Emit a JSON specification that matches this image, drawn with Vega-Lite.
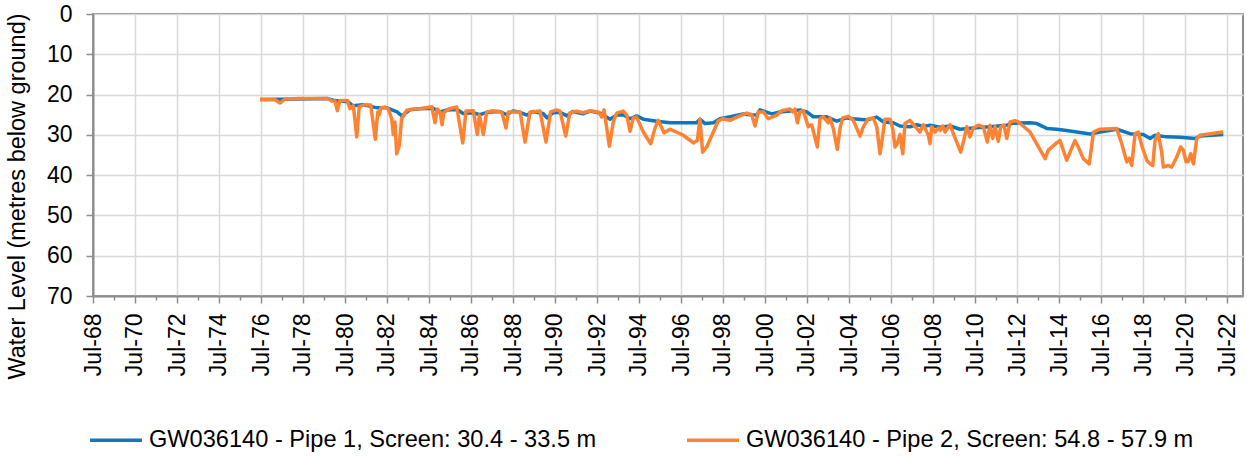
{
  "$schema": "https://vega.github.io/schema/vega-lite/v6.json",
  "autosize": "none",
  "width": 1150,
  "height": 282,
  "padding": {"left": 93, "top": 14, "right": 4, "bottom": 161},
  "background": "white",
  "config": {
    "font": "Liberation Sans",
    "view": {"stroke": "#8c8c8c", "strokeWidth": 2}
  },
  "datasets": {
    "p1": [
      {"d":"1976-06-14","v":21.2},{"d":"1978-05-09","v":21.1},{"d":"1979-09-09","v":21.0},{"d":"1980-01-09","v":21.5},
      {"d":"1980-08-22","v":21.8},{"d":"1980-11-17","v":22.8},{"d":"1981-05-09","v":22.5},{"d":"1982-01-09","v":23.3},
      {"d":"1982-07-01","v":23.3},{"d":"1982-12-22","v":24.3},{"d":"1983-03-17","v":25.3},{"d":"1983-08-04","v":23.8},
      {"d":"1984-01-26","v":23.5},{"d":"1984-09-09","v":23.4},{"d":"1985-01-09","v":24.3},{"d":"1985-05-09","v":23.8},
      {"d":"1985-11-01","v":23.7},{"d":"1986-02-13","v":24.7},{"d":"1986-08-04","v":24.5},{"d":"1986-12-04","v":25.0},
      {"d":"1987-04-04","v":24.4},{"d":"1987-11-17","v":24.2},{"d":"1988-03-17","v":25.0},{"d":"1988-07-01","v":24.1},
      {"d":"1988-11-01","v":24.4},{"d":"1989-03-01","v":25.1},{"d":"1989-06-14","v":24.2},{"d":"1989-12-04","v":24.7},
      {"d":"1990-02-13","v":25.8},{"d":"1990-05-26","v":24.5},{"d":"1990-09-26","v":24.4},{"d":"1991-01-26","v":25.3},
      {"d":"1991-05-09","v":24.2},{"d":"1991-11-01","v":24.8},{"d":"1992-03-01","v":24.1},{"d":"1992-08-22","v":24.6},
      {"d":"1993-02-13","v":26.1},{"d":"1993-06-08","v":25.1},{"d":"1993-10-01","v":25.0},{"d":"1994-01-26","v":26.0},
      {"d":"1994-05-21","v":25.3},{"d":"1994-09-14","v":26.1},{"d":"1995-05-04","v":26.6},{"d":"1995-12-22","v":27.0},
      {"d":"1997-03-30","v":27.0},{"d":"1997-05-26","v":26.1},{"d":"1997-08-22","v":27.2},{"d":"1998-01-14","v":27.0},
      {"d":"1998-05-09","v":26.0},{"d":"1998-11-01","v":25.5},{"d":"1999-06-19","v":24.8},{"d":"1999-10-13","v":25.0},
      {"d":"2000-02-08","v":25.1},{"d":"2000-04-04","v":23.8},{"d":"2000-10-26","v":24.8},{"d":"2001-03-17","v":24.3},
      {"d":"2001-11-06","v":24.0},{"d":"2002-03-01","v":23.8},{"d":"2002-06-26","v":24.3},{"d":"2002-10-19","v":25.5},
      {"d":"2003-06-08","v":25.5},{"d":"2003-11-30","v":26.6},{"d":"2004-05-21","v":25.8},{"d":"2004-09-14","v":26.0},
      {"d":"2005-05-04","v":26.3},{"d":"2005-10-26","v":25.6},{"d":"2006-02-19","v":26.8},{"d":"2006-08-10","v":27.0},
      {"d":"2006-12-04","v":27.8},{"d":"2007-05-26","v":28.0},{"d":"2007-09-21","v":27.5},{"d":"2008-01-14","v":27.9},
      {"d":"2008-05-09","v":27.6},{"d":"2008-11-01","v":28.1},{"d":"2009-04-22","v":27.8},{"d":"2009-10-13","v":28.6},
      {"d":"2010-06-01","v":28.3},{"d":"2011-03-17","v":28.0},{"d":"2012-01-04","v":27.6},{"d":"2012-04-27","v":27.1},
      {"d":"2013-02-13","v":27.0},{"d":"2013-06-08","v":27.2},{"d":"2013-11-30","v":28.4},{"d":"2014-05-21","v":28.6},
      {"d":"2014-11-12","v":28.9},{"d":"2015-05-04","v":29.3},{"d":"2015-12-22","v":29.8},{"d":"2016-06-14","v":29.3},
      {"d":"2017-03-30","v":28.6},{"d":"2017-11-17","v":29.7},{"d":"2018-07-06","v":29.9},{"d":"2018-11-01","v":30.9},
      {"d":"2019-01-26","v":30.1},{"d":"2019-08-17","v":30.5},{"d":"2020-04-04","v":30.6},{"d":"2020-12-22","v":30.9},
      {"d":"2021-03-17","v":30.3},{"d":"2022-04-27","v":29.9}
    ],
    "p2": [
      {"d":"1976-06-14","v":21.2},{"d":"1977-03-01","v":21.3},{"d":"1977-05-26","v":22.1},{"d":"1977-08-22","v":21.1},
      {"d":"1978-05-09","v":21.0},{"d":"1979-09-14","v":21.0},{"d":"1979-11-12","v":21.6},{"d":"1980-01-09","v":21.6},
      {"d":"1980-02-19","v":24.0},{"d":"1980-04-04","v":21.5},{"d":"1980-08-10","v":21.5},{"d":"1980-09-26","v":23.5},
      {"d":"1980-11-23","v":22.8},{"d":"1981-01-21","v":30.5},{"d":"1981-03-06","v":23.0},{"d":"1981-06-14","v":22.5},
      {"d":"1981-09-21","v":22.6},{"d":"1981-12-10","v":31.1},{"d":"1982-01-21","v":24.3},{"d":"1982-02-19","v":25.0},
      {"d":"1982-03-17","v":23.3},{"d":"1982-05-26","v":23.1},{"d":"1982-07-23","v":23.6},{"d":"1982-09-21","v":26.0},
      {"d":"1982-10-19","v":29.9},{"d":"1982-11-17","v":26.8},{"d":"1982-12-17","v":34.7},{"d":"1983-02-01","v":32.6},
      {"d":"1983-03-12","v":26.0},{"d":"1983-06-08","v":23.9},{"d":"1983-10-01","v":23.6},{"d":"1984-01-26","v":23.5},
      {"d":"1984-08-17","v":23.0},{"d":"1984-10-13","v":27.0},{"d":"1984-11-23","v":23.6},{"d":"1985-01-09","v":24.3},
      {"d":"1985-02-13","v":27.5},{"d":"1985-03-17","v":24.5},{"d":"1985-06-01","v":23.6},{"d":"1985-10-26","v":23.1},
      {"d":"1986-02-08","v":32.0},{"d":"1986-04-04","v":24.1},{"d":"1986-08-10","v":24.0},{"d":"1986-10-19","v":29.9},
      {"d":"1986-11-23","v":25.1},{"d":"1987-02-01","v":29.9},{"d":"1987-03-30","v":24.3},{"d":"1987-07-23","v":24.0},
      {"d":"1987-12-17","v":24.3},{"d":"1988-03-01","v":28.3},{"d":"1988-04-10","v":24.3},{"d":"1988-11-01","v":24.3},
      {"d":"1989-01-26","v":31.8},{"d":"1989-04-22","v":24.3},{"d":"1989-10-13","v":24.1},{"d":"1990-01-26","v":31.8},
      {"d":"1990-04-16","v":24.3},{"d":"1990-07-30","v":23.8},{"d":"1990-09-26","v":24.1},{"d":"1991-01-04","v":30.3},
      {"d":"1991-03-17","v":24.5},{"d":"1991-07-12","v":24.1},{"d":"1991-11-06","v":24.5},{"d":"1992-03-01","v":24.0},
      {"d":"1992-07-23","v":24.3},{"d":"1992-09-21","v":25.6},{"d":"1992-11-01","v":23.8},{"d":"1993-02-01","v":32.8},
      {"d":"1993-04-10","v":26.8},{"d":"1993-06-08","v":24.6},{"d":"1993-10-01","v":24.1},{"d":"1993-11-30","v":25.1},
      {"d":"1994-01-26","v":29.1},{"d":"1994-03-23","v":25.8},{"d":"1994-05-21","v":25.6},{"d":"1994-09-14","v":29.3},
      {"d":"1995-01-21","v":32.2},{"d":"1995-04-04","v":28.4},{"d":"1995-06-01","v":26.4},{"d":"1995-09-09","v":29.5},
      {"d":"1995-12-22","v":28.6},{"d":"1996-08-10","v":30.1},{"d":"1997-02-01","v":32.0},{"d":"1997-04-10","v":31.4},
      {"d":"1997-05-26","v":26.1},{"d":"1997-07-12","v":34.3},{"d":"1997-09-21","v":33.0},{"d":"1998-01-14","v":29.3},
      {"d":"1998-04-10","v":26.5},{"d":"1998-07-06","v":26.0},{"d":"1998-11-01","v":26.4},{"d":"1999-02-26","v":25.6},
      {"d":"1999-08-17","v":24.6},{"d":"1999-11-12","v":25.0},{"d":"2000-01-09","v":27.8},{"d":"2000-03-06","v":24.3},
      {"d":"2000-06-01","v":24.3},{"d":"2000-08-27","v":26.0},{"d":"2001-01-21","v":25.1},{"d":"2001-04-16","v":24.0},
      {"d":"2001-09-09","v":23.6},{"d":"2001-10-26","v":24.3},{"d":"2001-12-04","v":23.6},{"d":"2002-01-14","v":27.0},
      {"d":"2002-03-01","v":24.3},{"d":"2002-04-27","v":24.0},{"d":"2002-07-23","v":28.0},{"d":"2002-09-21","v":27.5},
      {"d":"2002-12-27","v":33.0},{"d":"2003-02-13","v":26.0},{"d":"2003-04-10","v":25.5},{"d":"2003-07-06","v":27.0},
      {"d":"2003-08-04","v":25.8},{"d":"2003-10-01","v":28.4},{"d":"2003-12-10","v":33.6},{"d":"2004-01-26","v":28.4},
      {"d":"2004-03-12","v":25.8},{"d":"2004-06-19","v":25.4},{"d":"2004-09-14","v":26.4},{"d":"2005-01-09","v":30.3},
      {"d":"2005-03-06","v":28.0},{"d":"2005-06-01","v":26.0},{"d":"2005-08-27","v":25.8},{"d":"2005-10-26","v":28.0},
      {"d":"2005-12-22","v":34.7},{"d":"2006-02-08","v":30.1},{"d":"2006-03-17","v":26.1},{"d":"2006-06-14","v":26.1},
      {"d":"2006-07-30","v":28.4},{"d":"2006-09-09","v":33.0},{"d":"2006-10-19","v":32.2},{"d":"2006-12-04","v":29.9},
      {"d":"2007-01-21","v":34.7},{"d":"2007-03-01","v":27.2},{"d":"2007-05-26","v":26.4},{"d":"2007-09-21","v":28.4},
      {"d":"2007-11-17","v":29.3},{"d":"2008-01-14","v":27.5},{"d":"2008-04-10","v":30.1},{"d":"2008-05-09","v":32.2},
      {"d":"2008-06-08","v":28.0},{"d":"2008-08-04","v":29.3},{"d":"2008-10-01","v":28.3},{"d":"2008-11-01","v":28.9},
      {"d":"2008-12-17","v":27.8},{"d":"2009-01-26","v":29.3},{"d":"2009-04-22","v":27.5},{"d":"2009-06-19","v":29.7},
      {"d":"2009-10-26","v":34.3},{"d":"2009-12-10","v":31.8},{"d":"2010-02-08","v":28.0},{"d":"2010-04-04","v":30.5},
      {"d":"2010-06-01","v":28.3},{"d":"2010-08-27","v":27.6},{"d":"2010-11-23","v":28.0},{"d":"2011-02-01","v":31.8},
      {"d":"2011-03-17","v":27.6},{"d":"2011-05-04","v":30.9},{"d":"2011-06-14","v":28.0},{"d":"2011-08-10","v":31.6},
      {"d":"2011-09-21","v":28.0},{"d":"2011-11-17","v":27.6},{"d":"2012-01-04","v":30.9},{"d":"2012-03-01","v":26.8},
      {"d":"2012-05-26","v":26.5},{"d":"2012-07-23","v":26.8},{"d":"2013-02-13","v":29.3},{"d":"2013-11-01","v":35.9},
      {"d":"2013-12-27","v":33.8},{"d":"2014-05-21","v":32.0},{"d":"2014-07-18","v":31.4},{"d":"2014-11-12","v":36.3},
      {"d":"2015-01-09","v":34.3},{"d":"2015-04-04","v":31.4},{"d":"2015-06-01","v":33.0},{"d":"2015-08-27","v":35.9},
      {"d":"2015-12-10","v":37.2},{"d":"2016-01-21","v":32.6},{"d":"2016-02-19","v":29.3},{"d":"2016-06-14","v":28.6},
      {"d":"2017-03-30","v":28.4},{"d":"2017-06-26","v":32.2},{"d":"2017-09-21","v":36.7},{"d":"2017-11-06","v":35.8},
      {"d":"2017-12-17","v":37.6},{"d":"2018-02-13","v":29.7},{"d":"2018-04-10","v":29.3},{"d":"2018-06-08","v":32.6},
      {"d":"2018-09-04","v":36.3},{"d":"2018-11-01","v":37.2},{"d":"2018-12-17","v":37.6},{"d":"2019-01-26","v":31.4},
      {"d":"2019-03-23","v":29.7},{"d":"2019-05-21","v":34.3},{"d":"2019-06-19","v":38.0},{"d":"2019-09-14","v":37.6},
      {"d":"2019-11-12","v":38.0},{"d":"2020-02-08","v":35.5},{"d":"2020-04-16","v":33.0},{"d":"2020-06-01","v":33.8},
      {"d":"2020-07-18","v":36.7},{"d":"2020-08-27","v":36.6},{"d":"2020-10-08","v":34.7},{"d":"2020-11-23","v":37.2},
      {"d":"2021-01-21","v":30.9},{"d":"2021-03-17","v":30.1},{"d":"2022-04-27","v":29.3}
    ]
  },
  "encoding": {
    "x": {
      "field": "d",
      "type": "temporal",
      "scale": {
        "type": "utc",
        "domain": [{"year": 1968, "month": 7, "date": 1, "utc": true}, {"year": 2023, "month": 4, "date": 5, "utc": true}]
      },
      "axis": {
        "title": null,
        "values": [
          {"year":1968,"month":7,"date":1,"utc":true},{"year":1969,"month":7,"date":1,"utc":true},{"year":1970,"month":7,"date":1,"utc":true},
          {"year":1971,"month":7,"date":1,"utc":true},{"year":1972,"month":7,"date":1,"utc":true},{"year":1973,"month":7,"date":1,"utc":true},
          {"year":1974,"month":7,"date":1,"utc":true},{"year":1975,"month":7,"date":1,"utc":true},{"year":1976,"month":7,"date":1,"utc":true},
          {"year":1977,"month":7,"date":1,"utc":true},{"year":1978,"month":7,"date":1,"utc":true},{"year":1979,"month":7,"date":1,"utc":true},
          {"year":1980,"month":7,"date":1,"utc":true},{"year":1981,"month":7,"date":1,"utc":true},{"year":1982,"month":7,"date":1,"utc":true},
          {"year":1983,"month":7,"date":1,"utc":true},{"year":1984,"month":7,"date":1,"utc":true},{"year":1985,"month":7,"date":1,"utc":true},
          {"year":1986,"month":7,"date":1,"utc":true},{"year":1987,"month":7,"date":1,"utc":true},{"year":1988,"month":7,"date":1,"utc":true},
          {"year":1989,"month":7,"date":1,"utc":true},{"year":1990,"month":7,"date":1,"utc":true},{"year":1991,"month":7,"date":1,"utc":true},
          {"year":1992,"month":7,"date":1,"utc":true},{"year":1993,"month":7,"date":1,"utc":true},{"year":1994,"month":7,"date":1,"utc":true},
          {"year":1995,"month":7,"date":1,"utc":true},{"year":1996,"month":7,"date":1,"utc":true},{"year":1997,"month":7,"date":1,"utc":true},
          {"year":1998,"month":7,"date":1,"utc":true},{"year":1999,"month":7,"date":1,"utc":true},{"year":2000,"month":7,"date":1,"utc":true},
          {"year":2001,"month":7,"date":1,"utc":true},{"year":2002,"month":7,"date":1,"utc":true},{"year":2003,"month":7,"date":1,"utc":true},
          {"year":2004,"month":7,"date":1,"utc":true},{"year":2005,"month":7,"date":1,"utc":true},{"year":2006,"month":7,"date":1,"utc":true},
          {"year":2007,"month":7,"date":1,"utc":true},{"year":2008,"month":7,"date":1,"utc":true},{"year":2009,"month":7,"date":1,"utc":true},
          {"year":2010,"month":7,"date":1,"utc":true},{"year":2011,"month":7,"date":1,"utc":true},{"year":2012,"month":7,"date":1,"utc":true},
          {"year":2013,"month":7,"date":1,"utc":true},{"year":2014,"month":7,"date":1,"utc":true},{"year":2015,"month":7,"date":1,"utc":true},
          {"year":2016,"month":7,"date":1,"utc":true},{"year":2017,"month":7,"date":1,"utc":true},{"year":2018,"month":7,"date":1,"utc":true},
          {"year":2019,"month":7,"date":1,"utc":true},{"year":2020,"month":7,"date":1,"utc":true},{"year":2021,"month":7,"date":1,"utc":true},
          {"year":2022,"month":7,"date":1,"utc":true}
        ],
        "labelExpr": "utcyear(datum.value) % 2 == 0 ? utcFormat(datum.value, '%b-%y') : ''",
        "labelAngle": -90,
        "labelFontSize": 23,
        "labelColor": "#000000",
        "labelPadding": 10,
        "labelOverlap": false,
        "labelFlush": false,
        "tickSize": {"condition": {"test": "utcyear(datum.value) % 2 == 1", "value": 4}, "value": 7},
        "tickColor": "#8c8c8c",
        "tickWidth": 1.5,
        "gridColor": "#d9d9d9",
        "gridWidth": 1.5,
        "gridOpacity": {"condition": {"test": "utcyear(datum.value) % 2 == 1", "value": 0}, "value": 1},
        "domainColor": "#8c8c8c",
        "domainWidth": 2
      }
    },
    "y": {
      "field": "v",
      "type": "quantitative",
      "scale": {"domain": [0, 70], "reverse": true, "nice": false, "zero": false},
      "axis": {
        "values": [0, 10, 20, 30, 40, 50, 60, 70],
        "title": "Water Level (metres below ground)",
        "titleFontSize": 23.5,
        "titleFontWeight": "normal",
        "titleColor": "#000000",
        "titleAngle": -90,
        "titleX": -76,
        "titleY": 182,
        "titleAlign": "center",
        "titleBaseline": "middle",
        "labelFontSize": 23,
        "labelColor": "#000000",
        "labelPadding": 14,
        "tickSize": 7,
        "tickColor": "#8c8c8c",
        "tickWidth": 1.5,
        "gridColor": "#d9d9d9",
        "gridWidth": 1.5,
        "domainColor": "#8c8c8c",
        "domainWidth": 2
      }
    }
  },
  "layer": [
    {
      "data": {"name": "p1"},
      "mark": {"type": "line", "strokeWidth": 3.5, "strokeJoin": "round"},
      "encoding": {
        "color": {
          "datum": "GW036140 - Pipe 1, Screen: 30.4 - 33.5 m",
          "scale": {
            "domain": ["GW036140 - Pipe 1, Screen: 30.4 - 33.5 m", "GW036140 - Pipe 2, Screen: 54.8 - 57.9 m"],
            "range": ["#0f78bd", "#ff8232"]
          },
          "legend": {
            "title": null,
            "orient": "none",
            "direction": "horizontal",
            "legendX": -5,
            "legendY": 398,
            "symbolType": "stroke",
            "symbolSize": 2704,
            "symbolStrokeWidth": 3.5,
            "labelFontSize": 23.6,
            "labelColor": "#000000",
            "labelOffset": 5,
            "labelLimit": 700,
            "columnPadding": 83
          }
        }
      }
    },
    {
      "data": {"name": "p2"},
      "mark": {"type": "line", "strokeWidth": 3.5, "strokeJoin": "round"},
      "encoding": {
        "color": {"datum": "GW036140 - Pipe 2, Screen: 54.8 - 57.9 m"}
      }
    }
  ]
}
